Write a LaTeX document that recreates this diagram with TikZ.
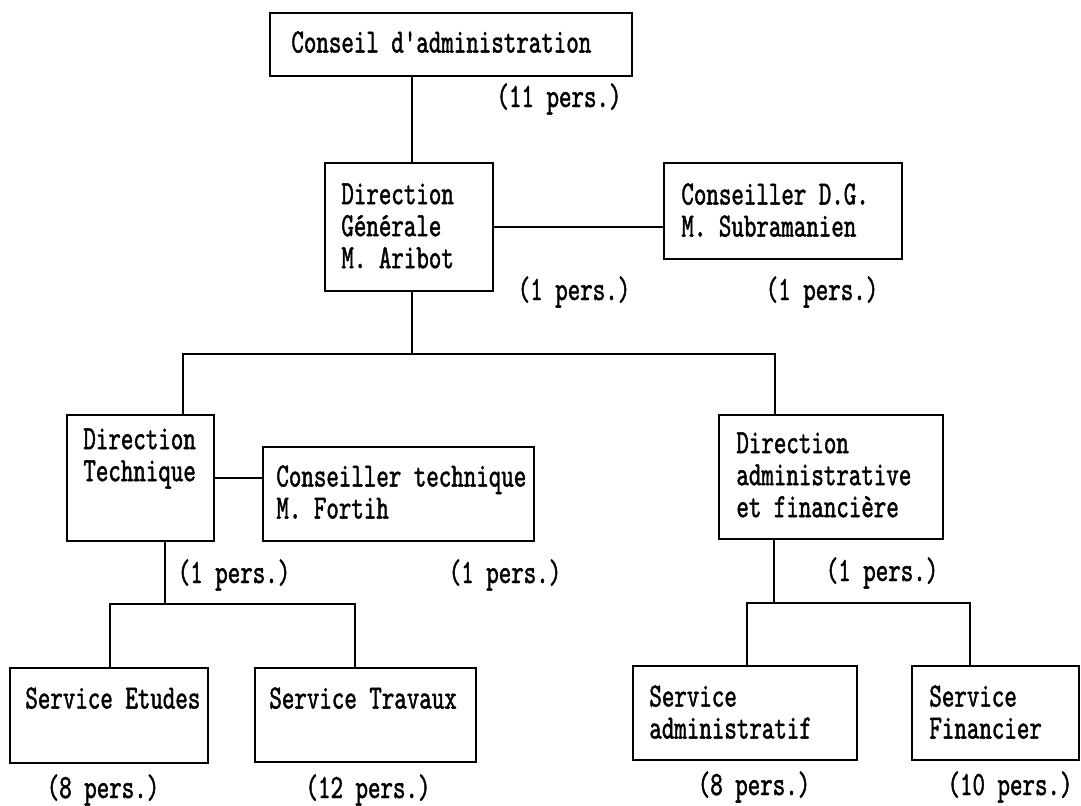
\documentclass[tikz,border=0pt]{standalone}
\usepackage{fontspec}
\newfontfamily\typew{lmmono10-regular.otf}[FakeStretch=0.70,FakeBold=1.3]
\usetikzlibrary{fit,calc}
\begin{document}
\begin{tikzpicture}[x=0.5pt,y=-0.5pt,
  box/.style={draw,line width=1pt,inner sep=0pt},
  txt/.style={font=\typew\fontsize{17}{16}\selectfont,align=left,inner sep=0pt,anchor=north west},
  pers/.style={font=\typew\fontsize{17}{16}\selectfont,inner sep=0pt,anchor=center},
  link/.style={line width=1pt}]
\useasboundingbox (0,0) rectangle (1081,806);
\fill[white] (0,0) rectangle (1081,806);
% boxes
\node[box,fit={(270,13) (632,76)}] (ca) {};
\node[box,fit={(325,163) (493,291)}] (dg) {};
\node[box,fit={(664,163) (902,259)}] (cdg) {};
\node[box,fit={(67,415) (214,541)}] (dt) {};
\node[box,fit={(263,447) (534,541)}] (ct) {};
\node[box,fit={(719,415) (943,539)}] (daf) {};
\node[box,fit={(10,668) (208,763)}] (se) {};
\node[box,fit={(255,668) (476,762)}] (st) {};
\node[box,fit={(633,666) (857,760)}] (sa) {};
\node[box,fit={(912,666) (1079,760)}] (sf) {};
% texts
\node[txt] (caT) at ($(ca.north west)+(22,19)$) {Conseil d'administration};
\node[txt] (dgT) at ($(dg.north west)+(17,21)$) {Direction\\Générale\\M. Aribot};
\node[txt] (cdgT) at ($(cdg.north west)+(18,21)$) {Conseiller D.G.\\M. Subramanien};
\node[txt] (dtT) at ($(dt.north west)+(17,14)$) {Direction\\Technique};
\node[txt] (ctT) at ($(ct.north west)+(14,19)$) {Conseiller technique\\M. Fortih};
\node[txt] (dafT) at ($(daf.north west)+(18,18)$) {Direction\\administrative\\et financière};
\node[txt] (seT) at ($(se.north west)+(16,20)$) {Service Etudes};
\node[txt] (stT) at ($(st.north west)+(15,20)$) {Service Travaux};
\node[txt] (saT) at ($(sa.north west)+(17,20)$) {Service\\administratif};
\node[txt] (sfT) at ($(sf.north west)+(18,20)$) {Service\\Financier};
% staff counts
\node[pers] (caP) at (559,99) {(11 pers.)};
\node[pers] (dgP) at (574,292) {(1 pers.)};
\node[pers] (cdgP) at (822,292) {(1 pers.)};
\node[pers] (dtP) at (234,575) {(1 pers.)};
\node[pers] (ctP) at (505,575) {(1 pers.)};
\node[pers] (dafP) at (882,573) {(1 pers.)};
\node[pers] (seP) at (103,790) {(8 pers.)};
\node[pers] (stP) at (368,790) {(12 pers.)};
\node[pers] (saP) at (754,787) {(8 pers.)};
\node[pers] (sfP) at (1010,787) {(10 pers.)};
% junction coordinates
\coordinate (x1) at (412,0);
\coordinate (b1) at (183,354);
\coordinate (b2) at (775,354);
\coordinate (x2) at (165,0);
\coordinate (c1) at (110,604);
\coordinate (c2) at (355,604);
\coordinate (x3) at (774,0);
\coordinate (d1) at (747,603);
\coordinate (d2) at (970,603);
% connectors
\draw[link] (ca.south -| x1) -- (dg.north -| x1);
\draw[link] (dg.east) -- (dg.east -| cdg.west);
\draw[link] (dg.south -| x1) -- (x1 |- b1);
\draw[link] (dt.north -| b1) -- (b1) -- (b2) -- (daf.north -| b2);
\draw[link] (dt.east) -- (dt.east -| ct.west);
\draw[link] (dt.south -| x2) -- (x2 |- c1);
\draw[link] (se.north -| c1) -- (c1) -- (c2) -- (st.north -| c2);
\draw[link] (daf.south -| x3) -- (x3 |- d1);
\draw[link] (sa.north -| d1) -- (d1) -- (d2) -- (sf.north -| d2);
\end{tikzpicture}
\end{document}
